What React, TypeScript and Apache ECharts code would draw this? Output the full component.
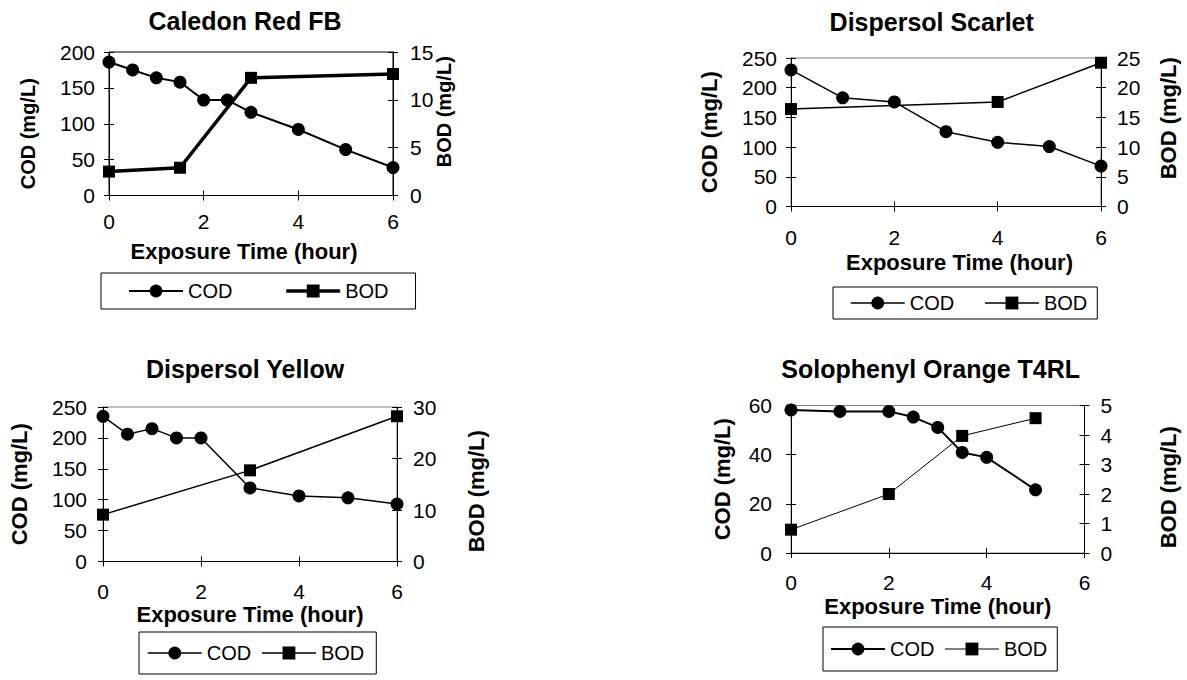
import React, { useEffect, useRef } from "react";
import * as echarts from "echarts";

const FONT = "'Liberation Sans', Arial, Helvetica, sans-serif";

// ---------- Data ----------
// Caledon Red FB
const caledonCodTime = [0, 0.5, 1, 1.5, 2, 2.5, 3, 4, 5, 6];
const caledonCod = [186, 175, 164, 158, 133, 133, 116, 92, 64, 39];
const caledonBodTime = [0, 1.5, 3, 6];
const caledonBod = [2.5, 2.9, 12.3, 12.7];

// Dispersol Scarlet
const scarletCodTime = [0, 1, 2, 3, 4, 5, 6];
const scarletCod = [230, 183, 176, 126, 108, 101, 68];
const scarletBodTime = [0, 4, 6];
const scarletBod = [16.4, 17.6, 24.2];

// Dispersol Yellow
const yellowCodTime = [0, 0.5, 1, 1.5, 2, 3, 4, 5, 6];
const yellowCod = [235, 206, 215, 200, 200, 119, 106, 103, 93];
const yellowBodTime = [0, 3, 6];
const yellowBod = [9.1, 17.7, 28.2];

// Solophenyl Orange T4RL
const orangeCodTime = [0, 1, 2, 2.5, 3, 3.5, 4, 5];
const orangeCod = [58.2, 57.6, 57.6, 55.3, 51.1, 40.9, 38.9, 25.7];
const orangeBodTime = [0, 2, 3.5, 5];
const orangeBod = [0.79, 2.0, 3.97, 4.57];

// Axis ranges [min, max, interval]
const timeAxis = [0, 6, 2];
const caledonCodAxis = [0, 200, 50];
const caledonBodAxis = [0, 15, 5];
const scarletCodAxis = [0, 250, 50];
const scarletBodAxis = [0, 25, 5];
const yellowCodAxis = [0, 250, 50];
const yellowBodAxis = [0, 30, 10];
const orangeCodAxis = [0, 60, 20];
const orangeBodAxis = [0, 5, 1];

const legendNames = ["COD", "BOD"];
const xTitle = "Exposure Time (hour)";
const codTitle = "COD (mg/L)";
const bodTitle = "BOD (mg/L)";

const zip = (xs: number[], ys: number[]) => xs.map((x, i) => [x, ys[i]]);

// ---------- Panel layouts ----------
const panels = [
  {
    div: [0, 0, 593, 340],
    title: "Caledon Red FB", titleX: 245, titleY: 8,
    grid: { left: 109, top: 52, width: 284, height: 143.5 }, border: "#000",
    codT: caledonCodTime, cod: caledonCod, bodT: caledonBodTime, bod: caledonBod,
    codAxis: caledonCodAxis, bodAxis: caledonBodAxis,
    codW: 2, bodW: 3.5,
    xLabelMargin: 15, xNameGap: 45, xNamePad: [0, 14, 0, 0],
    yLMargin: 14, yLGap: 71, yLFont: 20, yLPad: [0, 20, 0, 0],
    yRMargin: 17, yRGap: 41, yRFont: 20, yRPad: [0, 0, 0, 24],
    legend: { left: 101, top: 273, padding: [8, 27, 8, 27], itemGap: 52 },
  },
  {
    div: [593, 0, 594, 340],
    title: "Dispersol Scarlet", titleX: 338.7, titleY: 9,
    grid: { left: 198, top: 58, width: 311, height: 148.5 }, border: "#808080",
    codT: scarletCodTime, cod: scarletCod, bodT: scarletBodTime, bod: scarletBod,
    codAxis: scarletCodAxis, bodAxis: scarletBodAxis,
    codW: 1.5, bodW: 1.5,
    xLabelMargin: 20, xNameGap: 45, xNamePad: [0, 0, 0, 27],
    yLMargin: 14, yLGap: 71, yLFont: 22, yLPad: [0, 0, 0, 0],
    yRMargin: 16, yRGap: 56, yRFont: 22, yRPad: [0, 0, 0, 28],
    legend: { left: 240, top: 287, padding: [6, 10, 6, 17], itemGap: 30 },
  },
  {
    div: [0, 340, 593, 340],
    title: "Dispersol Yellow", titleX: 245, titleY: 16,
    grid: { left: 103, top: 67, width: 294, height: 154.5 }, border: "#808080",
    codT: yellowCodTime, cod: yellowCod, bodT: yellowBodTime, bod: yellowBod,
    codAxis: yellowCodAxis, bodAxis: yellowBodAxis,
    codW: 1.5, bodW: 1.5,
    xLabelMargin: 19, xNameGap: 42, xNamePad: [0, 0, 0, 0],
    yLMargin: 16, yLGap: 73, yLFont: 22, yLPad: [0, 0, 0, 0],
    yRMargin: 16, yRGap: 68, yRFont: 22, yRPad: [0, 14, 0, 0],
    legend: { left: 139, top: 292, padding: [11, 12, 11, 8], itemGap: 10 },
  },
  {
    div: [593, 340, 594, 340],
    title: "Solophenyl Orange T4RL", titleX: 337.7, titleY: 16,
    grid: { left: 198, top: 65.5, width: 298, height: 147.5 }, border: "#808080",
    codT: orangeCodTime, cod: orangeCod, bodT: orangeBodTime, bod: orangeBod,
    codAxis: orangeCodAxis, bodAxis: orangeBodAxis,
    codW: 2, bodW: 1,
    xLabelMargin: 19, xNameGap: 42, xNamePad: [0, 0, 0, 0],
    yLMargin: 19, yLGap: 58, yLFont: 22, yLPad: [0, 0, 0, 0],
    yRMargin: 16, yRGap: 72.5, yRFont: 22, yRPad: [0, 16, 0, 0],
    legend: { left: 230, top: 287, padding: [12, 10, 12, 7], itemGap: 10 },
  },
];

const BLACK = "#000";

function rangeOf(a: number[]) {
  return { min: a[0], max: a[1], interval: a[2] };
}

function mainAxis(range: number[], position: string, margin: number, name: string, nameGap: number, nameFont: number, namePad: number[]) {
  return {
    type: "value",
    ...rangeOf(range),
    position,
    name,
    nameLocation: "middle",
    nameGap,
    nameMoveOverlap: false,
    nameTextStyle: { fontFamily: FONT, fontSize: nameFont, fontWeight: "bold", color: BLACK, padding: namePad },
    axisLine: { show: true, onZero: false, lineStyle: { color: BLACK, width: 1 } },
    axisTick: { show: true, inside: false, length: 5, lineStyle: { color: BLACK, width: 1 } },
    axisLabel: { show: true, margin, fontFamily: FONT, fontSize: 21, color: BLACK },
    splitLine: { show: false },
  };
}

function innerTickAxis(range: number[], position: string) {
  return {
    type: "value",
    ...rangeOf(range),
    position,
    axisLine: { show: false, onZero: false },
    axisTick: { show: true, inside: true, length: 5, lineStyle: { color: BLACK, width: 1 } },
    axisLabel: { show: false },
    splitLine: { show: false },
  };
}

function buildOption(p: any) {
  return {
    animation: false,
    title: {
      text: p.title,
      left: p.titleX,
      top: p.titleY,
      textAlign: "center",
      padding: 0,
      textStyle: { fontFamily: FONT, fontSize: 25, fontWeight: "bold", color: BLACK },
    },
    grid: {
      ...p.grid,
      show: true,
      borderColor: p.border,
      borderWidth: 1,
      backgroundColor: "transparent",
    },
    legend: {
      data: [
        { name: legendNames[0], lineStyle: { width: p.codW, color: BLACK } },
        { name: legendNames[1], lineStyle: { width: p.bodW, color: BLACK } },
      ],
      left: p.legend.left,
      top: p.legend.top,
      padding: p.legend.padding,
      itemGap: p.legend.itemGap,
      itemWidth: 54,
      itemHeight: 16,
      orient: "horizontal",
      selectedMode: false,
      borderColor: BLACK,
      borderWidth: 1,
      borderRadius: 0,
      backgroundColor: "#fff",
      textStyle: { fontFamily: FONT, fontSize: 20, color: BLACK },
    },
    xAxis: [
      mainAxis(timeAxis, "bottom", p.xLabelMargin, xTitle, p.xNameGap, 22, p.xNamePad),
      innerTickAxis(timeAxis, "bottom"),
    ],
    yAxis: [
      mainAxis(p.codAxis, "left", p.yLMargin, codTitle, p.yLGap, p.yLFont, p.yLPad),
      mainAxis(p.bodAxis, "right", p.yRMargin, bodTitle, p.yRGap, p.yRFont, p.yRPad),
      innerTickAxis(p.codAxis, "left"),
      innerTickAxis(p.bodAxis, "right"),
    ],
    series: [
      {
        name: "COD",
        type: "line",
        xAxisIndex: 0,
        yAxisIndex: 0,
        data: zip(p.codT, p.cod),
        symbol: "circle",
        symbolSize: 13,
        showAllSymbol: true,
        lineStyle: { color: BLACK, width: p.codW },
        itemStyle: { color: BLACK },
        emphasis: { disabled: true },
        z: 3,
      },
      {
        name: "BOD",
        type: "line",
        xAxisIndex: 0,
        yAxisIndex: 1,
        data: zip(p.bodT, p.bod),
        symbol: "rect",
        symbolSize: 12,
        showAllSymbol: true,
        lineStyle: { color: BLACK, width: p.bodW },
        itemStyle: { color: BLACK },
        emphasis: { disabled: true },
        z: 3,
      },
    ],
  };
}

function Panel({ p }: { p: any }) {
  const ref = useRef<HTMLDivElement>(null);
  useEffect(() => {
    if (!ref.current) return;
    const chart = echarts.init(ref.current, undefined, { renderer: "svg" });
    chart.setOption(buildOption(p) as any);
    return () => chart.dispose();
  }, [p]);
  const [x, y, w, h] = p.div;
  return (
    <div
      ref={ref}
      style={{ position: "absolute", left: x, top: y, width: w, height: h }}
    />
  );
}

export default function App() {
  return (
    <div
      style={{
        position: "fixed",
        left: 0,
        top: 0,
        width: 1187,
        height: 680,
        background: "#fff",
        overflow: "hidden",
      }}
    >
      {panels.map((p, i) => (
        <Panel key={i} p={p} />
      ))}
    </div>
  );
}
